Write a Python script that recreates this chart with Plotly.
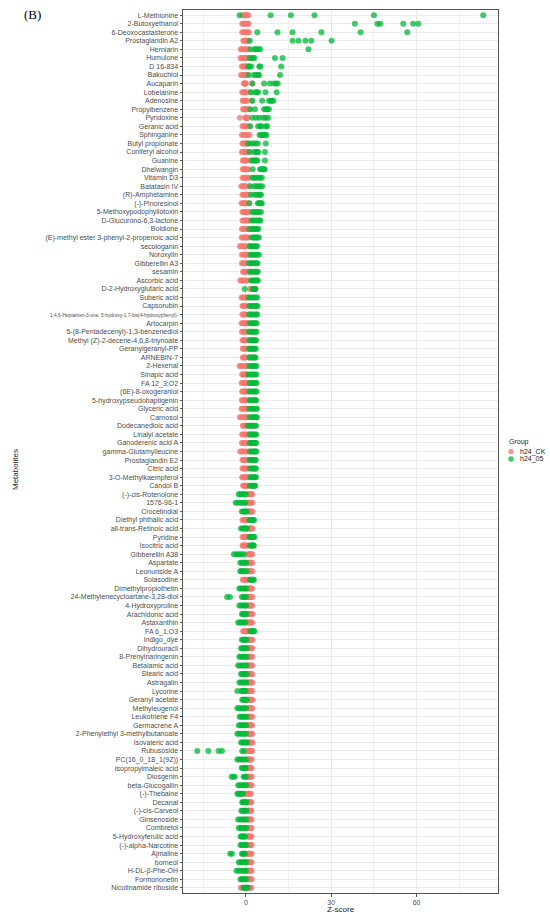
import plotly.graph_objects as go

metabolites = [
    "L-Methionine", "2-Butoxyethanol", "6-Deoxocastasterone", "Prostaglandin A2", "Herniarin",
    "Humulone", "D 16-834", "Bakuchiol", "Aucaparin", "Lobelanine",
    "Adenosine", "Propylbenzene", "Pyridoxine", "Geranic acid", "Sphinganine",
    "Butyl propionate", "Coniferyl alcohol", "Guanine", "Dhelwangin", "Vitamin D3",
    "Batatasin IV", "(R)-Amphetamine", "(-)-Pinoresinol", "5-Methoxypodophyllotoxin", "D-Glucurono-6,3-lactone",
    "Boldione", "(E)-methyl ester 3-phenyl-2-propenoic acid", "secologanin", "Noroxylin", "Gibberellin A3",
    "sesamin", "Ascorbic acid", "D-2-Hydroxyglutaric acid", "Suberic acid", "Capsorubin",
    "1,4,6-Heptatrien-3-one, 5-hydroxy-1,7-bis(4-hydroxyphenyl)-", "Artocarpin", "5-(8-Pentadecenyl)-1,3-benzenediol",
    "Methyl (Z)-2-decene-4,6,8-triynoate", "Geranylgeranyl-PP",
    "ARNEBIN-7", "2-Hexenal", "Sinapic acid", "FA 12_3;O2", "(6E)-8-oxogeraniol",
    "5-hydroxypseudobaptigenin", "Glyceric acid", "Carnosol", "Dodecanedioic acid", "Linalyl acetate",
    "Ganoderenic acid A", "gamma-Glutamylleucine", "Prostaglandin E2", "Citric acid", "3-O-Methylkaempferol",
    "Candol B", "(-)-cis-Rotenolone", "1576-96-1", "Crocetindial", "Diethyl phthalic acid",
    "all-trans-Retinoic acid", "Pyridine", "Isocitric acid", "Gibberellin A38", "Aspartate",
    "Leonuriside A", "Solasodine", "Dimethylpropiothetin", "24-Methylenecycloartane-3,28-diol", "4-Hydroxyproline",
    "Arachidonic acid", "Astaxanthin", "FA 6_1;O3", "Indigo_dye", "Dihydrouracil",
    "8-Prenylnaringenin", "Betalamic acid", "Stearic acid", "Astragalin", "Lycorine",
    "Geranyl acetate", "Methyleugenol", "Leukotriene F4", "Germacrene A", "2-Phenylethyl 3-methylbutanoate",
    "Isovaleric acid", "Rubusoside", "PC(16_0_18_1(9Z))", "Isopropylmaleic acid", "Diosgenin",
    "beta-Glucogallin", "(-)-Thebaine", "Decanal", "(-)-cis-Carveol", "Ginsenoside",
    "Combretol", "5-Hydroxyferulic acid", "(-)-alpha-Narcotine", "Ajmaline", "borneol",
    "H-DL-β-Phe-OH", "Formononetin", "Nicotinamide riboside",
]

# h24_CK z-scores (6 replicates per metabolite)
ck_values = [
    [-1.2, -0.8, -0.4, 0.0, 0.4, 0.9], [-1.3, -0.9, -0.4, 0.1, 0.5, 1.0], [-1.3, -0.9, -0.4, 0.1, 0.6, 1.1],
    [-0.9, -0.6, -0.3, 0.0, 0.4, 0.7], [-1.8, -1.4, -0.9, -0.4, 0.1, 0.7], [-1.9, -1.4, -1.0, -0.5, 0.0, 0.5],
    [-1.4, -1.0, -0.6, -0.2, 0.2, 0.7], [-1.7, -1.3, -0.8, -0.4, 0.1, 0.5], [-0.7, -0.5, -0.3, -0.1, 0.0, 2.2],
    [-1.3, -0.9, -0.5, -0.2, 0.2, 1.5], [-1.1, -0.8, -0.4, 0.0, 0.3, 2.0], [-1.0, -0.7, -0.3, 0.0, 0.3, 1.3],
    [-2.1, -0.2, 0.0, 0.2, 0.4, 0.6], [-1.2, -0.9, -0.5, -0.1, 0.2, 1.3], [-1.4, -0.9, -0.4, 0.2, 0.7, 1.3],
    [-1.2, -0.9, -0.5, 0.0, 0.4, 0.8], [-1.4, -1.0, -0.6, -0.2, 0.2, 1.2], [-1.1, -0.8, -0.4, 0.0, 0.3, 1.8],
    [-1.1, -0.8, -0.4, 0.0, 0.4, 0.9], [-1.2, -0.8, -0.3, 0.2, 0.6, 1.1], [-1.6, -1.2, -0.8, -0.3, 0.1, 1.2],
    [-1.2, -0.8, -0.4, 0.1, 0.5, 1.3], [-1.5, -1.1, -0.8, -0.4, 0.0, 1.0], [-1.2, -0.8, -0.4, 0.1, 0.5, 1.0],
    [-1.2, -0.8, -0.3, 0.2, 0.6, 1.1], [-1.4, -1.0, -0.5, 0.0, 0.9, 1.7], [-1.5, -1.1, -0.6, -0.1, 0.3, 0.8],
    [-2.1, -1.6, -1.1, -0.6, -0.2, 0.9], [-1.4, -1.0, -0.5, 0.0, 0.4, 0.9], [-1.4, -1.0, -0.5, -0.1, 0.9, 1.7],
    [-1.0, -0.7, -0.3, 0.1, 1.1, 1.8], [-2.0, -1.5, -1.0, -0.4, 0.1, 0.7], [1.5, 1.8, 2.2, 2.6, 3.0, 3.4],
    [-1.5, -1.1, -0.7, -0.2, 0.2, 0.7], [-1.2, -0.9, -0.5, -0.1, 1.0, 1.8], [-1.2, -0.9, -0.5, -0.1, 1.0, 1.8],
    [-1.5, -1.1, -0.7, -0.2, 0.2, 0.6], [-1.4, -1.0, -0.5, 0.0, 0.9, 1.6], [-1.2, -0.9, -0.5, -0.1, 1.0, 1.8],
    [-1.1, -0.8, -0.4, 0.1, 1.0, 1.7], [-1.1, -0.8, -0.4, 0.0, 1.1, 1.8], [-2.2, -1.7, -1.2, -0.6, 0.0, 0.5],
    [-1.3, -1.0, -0.6, -0.2, 0.1, 0.4], [-1.5, -1.1, -0.6, -0.1, 0.5, 1.2], [-1.3, -1.0, -0.6, -0.2, 0.3, 1.1],
    [-1.4, -1.1, -0.6, -0.2, 0.3, 1.2], [-1.5, -1.2, -0.7, -0.2, 0.2, 0.7], [-2.1, -1.6, -1.1, -0.5, 0.0, 0.6],
    [-1.1, -0.8, -0.5, 0.4, 1.2, 1.9], [-1.3, -1.0, -0.5, 0.0, 0.8, 1.5], [-1.4, -1.0, -0.5, 0.0, 0.9, 1.6],
    [-2.0, -1.5, -1.0, -0.4, 0.4, 1.3], [-1.2, -0.9, -0.5, -0.1, 0.8, 1.5], [-1.2, -0.9, -0.5, -0.1, 0.3, 0.8],
    [-1.3, -1.0, -0.5, 0.0, 0.4, 0.9], [-1.0, -0.7, -0.3, 0.1, 0.5, 0.8],
    [0.7, 1.0, 1.3, 1.6, 1.9, 2.2], [0.6, 1.0, 1.3, 1.6, 1.9, 2.2], [0.8, 1.1, 1.4, 1.7, 2.0, 2.3],
    [-1.2, -0.9, -0.5, -0.1, 0.3, 0.7], [0.8, 1.1, 1.4, 1.7, 2.0, 2.3], [-1.2, -0.9, -0.5, -0.1, 0.3, 0.8],
    [-1.2, -0.9, -0.5, -0.1, 0.3, 0.8], [0.7, 1.0, 1.3, 1.6, 1.9, 2.2], [0.7, 1.0, 1.3, 1.6, 1.9, 2.2],
    [0.6, 1.0, 1.3, 1.6, 1.9, 2.2], [-1.1, -0.8, -0.4, 0.0, 0.4, 0.8], [0.7, 1.0, 1.3, 1.6, 1.9, 2.2],
    [0.7, 1.0, 1.3, 1.6, 1.9, 2.2], [0.7, 1.0, 1.3, 1.6, 1.9, 2.2], [0.8, 1.1, 1.4, 1.7, 2.0, 2.3],
    [0.4, 0.8, 1.2, 1.6, 1.9, 2.2], [-1.0, -0.7, -0.3, 0.1, 0.5, 0.9], [0.8, 1.1, 1.4, 1.7, 2.0, 2.3],
    [0.7, 1.0, 1.3, 1.6, 1.9, 2.2], [0.7, 1.0, 1.3, 1.6, 1.9, 2.2], [0.7, 1.0, 1.3, 1.6, 1.9, 2.2],
    [0.7, 1.0, 1.3, 1.6, 1.9, 2.2], [0.7, 1.0, 1.3, 1.6, 1.9, 2.2], [0.4, 0.8, 1.2, 1.6, 1.9, 2.2],
    [0.8, 1.1, 1.4, 1.7, 2.0, 2.3], [0.7, 1.0, 1.3, 1.6, 1.9, 2.2], [0.7, 1.0, 1.3, 1.6, 1.9, 2.2],
    [0.7, 1.0, 1.3, 1.6, 1.9, 2.2], [0.7, 1.0, 1.3, 1.6, 1.9, 2.2], [0.8, 1.1, 1.4, 1.7, 2.0, 2.3],
    [0.4, 0.8, 1.2, 1.6, 1.9, 2.2], [0.6, 0.9, 1.2, 1.5, 1.8, 2.0], [0.5, 0.8, 1.1, 1.4, 1.7, 2.0],
    [0.5, 0.8, 1.1, 1.4, 1.7, 2.0], [0.5, 0.8, 1.1, 1.4, 1.7, 2.0], [-0.3, 0.2, 0.6, 1.0, 1.4, 1.8],
    [0.8, 1.0, 1.3, 1.5, 1.7, 1.9], [0.7, 1.0, 1.2, 1.5, 1.7, 1.9], [0.5, 0.8, 1.1, 1.4, 1.7, 2.0],
    [0.5, 0.8, 1.1, 1.4, 1.7, 2.0], [0.5, 0.8, 1.1, 1.4, 1.7, 2.0], [0.5, 0.8, 1.1, 1.4, 1.7, 2.0],
    [0.5, 0.8, 1.1, 1.4, 1.7, 2.0], [0.5, 0.8, 1.1, 1.4, 1.7, 2.0], [0.5, 0.8, 1.1, 1.4, 1.7, 2.0],
    [0.6, 0.9, 1.2, 1.5, 1.8, 2.0], [-1.8, -1.3, 0.9, 1.3, 1.6, 1.9],
]

# h24_05 z-scores (6 replicates per metabolite)
trt_values = [
    [-2.2, 8.7, 15.8, 24.1, 45.0, 83.4], [38.3, 46.2, 47.2, 55.3, 58.8, 60.6], [4.0, 11.1, 16.4, 26.5, 40.3, 56.7],
    [1.4, 16.4, 18.5, 20.9, 23.0, 30.1], [1.6, 3.0, 3.6, 4.3, 5.0, 22.0], [1.3, 2.0, 2.6, 3.0, 10.2, 12.9],
    [0.8, 1.3, 1.9, 4.7, 5.1, 12.4], [1.0, 2.7, 3.5, 4.4, 4.6, 12.0], [2.3, 6.4, 8.4, 9.8, 10.6, 11.2],
    [1.7, 3.2, 3.8, 4.3, 6.9, 10.8], [2.3, 5.7, 8.1, 8.7, 9.2, 9.6], [1.5, 3.2, 6.4, 7.0, 7.6, 8.1],
    [2.3, 3.5, 4.7, 6.1, 6.9, 7.8], [1.5, 4.3, 5.0, 5.5, 7.0, 7.5], [4.8, 5.3, 5.8, 6.3, 6.8, 7.2],
    [0.8, 1.8, 2.6, 3.4, 4.2, 7.0], [1.3, 2.9, 3.5, 4.1, 4.3, 6.7], [2.0, 2.6, 3.2, 3.6, 4.0, 6.7],
    [2.4, 5.0, 5.5, 5.9, 6.3, 6.6], [2.3, 2.9, 3.6, 4.3, 5.0, 5.6], [1.5, 3.0, 3.7, 4.4, 5.1, 5.7],
    [1.8, 3.1, 3.7, 4.3, 4.9, 5.3], [1.2, 4.2, 4.6, 5.0, 5.3, 5.6], [2.2, 2.8, 3.4, 4.0, 4.6, 5.3],
    [2.0, 2.6, 3.3, 4.0, 4.6, 5.1], [1.2, 2.2, 2.8, 3.4, 3.9, 4.4], [2.0, 2.6, 3.1, 3.6, 4.1, 4.6],
    [1.3, 1.8, 2.3, 2.9, 3.5, 4.0], [1.6, 2.2, 2.8, 3.4, 4.0, 4.6], [1.1, 1.9, 2.6, 3.2, 3.7, 4.1],
    [1.3, 2.0, 2.7, 3.3, 3.8, 4.2], [1.8, 2.4, 2.9, 3.4, 3.9, 4.2], [-0.4, 2.5, 2.7, 2.9, 3.1, 3.3],
    [1.0, 1.6, 2.2, 2.8, 3.4, 4.0], [1.2, 2.0, 2.6, 3.2, 3.7, 4.1], [1.1, 1.9, 2.5, 3.1, 3.6, 4.0],
    [1.3, 1.9, 2.4, 2.9, 3.4, 3.8], [1.1, 1.8, 2.4, 2.9, 3.3, 3.7], [1.2, 1.9, 2.4, 2.9, 3.3, 3.6],
    [1.0, 1.6, 2.2, 2.7, 3.1, 3.5], [1.2, 1.8, 2.3, 2.7, 3.1, 3.4], [1.2, 1.8, 2.3, 2.8, 3.3, 3.7],
    [0.8, 1.4, 2.0, 2.6, 3.2, 3.7], [1.3, 1.9, 2.4, 2.9, 3.4, 3.7], [1.2, 1.8, 2.4, 2.9, 3.4, 3.8],
    [1.3, 1.9, 2.4, 2.9, 3.3, 3.6], [1.2, 1.8, 2.4, 3.0, 3.5, 3.9], [1.3, 1.9, 2.5, 3.0, 3.5, 3.9],
    [0.6, 1.3, 2.0, 2.6, 3.1, 3.6], [1.3, 1.9, 2.4, 2.9, 3.3, 3.6], [1.3, 1.9, 2.4, 2.9, 3.3, 3.6],
    [1.4, 2.0, 2.5, 3.0, 3.4, 3.7], [1.2, 1.8, 2.3, 2.8, 3.2, 3.5], [1.4, 2.0, 2.5, 2.9, 3.3, 3.5],
    [1.5, 2.0, 2.5, 2.9, 3.3, 3.5], [1.4, 1.9, 2.3, 2.7, 3.0, 3.3],
    [-2.5, -2.0, -1.5, -1.0, -0.5, 0.0], [-3.6, -3.0, -2.2, -1.5, -0.8, -0.2], [-1.4, -1.0, -0.6, -0.3, 0.0, 0.3],
    [1.2, 1.6, 2.0, 2.3, 2.6, 2.9], [-1.7, -1.2, -0.8, -0.4, 0.0, 0.3], [1.2, 1.6, 2.0, 2.4, 2.7, 3.0],
    [1.4, 1.8, 2.1, 2.4, 2.6, 2.8], [-4.2, -3.5, -2.8, -2.1, -1.4, -0.7], [-2.0, -1.5, -1.1, -0.7, -0.3, 0.1],
    [-2.0, -1.6, -1.2, -0.8, -0.3, 0.3], [1.4, 1.7, 2.0, 2.3, 2.6, 2.8], [-2.3, -1.8, -1.3, -0.8, -0.3, 0.1],
    [-6.6, -5.6, -1.4, -0.9, -0.4, 0.0], [-2.3, -1.8, -1.3, -0.8, -0.3, 0.1], [-1.4, -1.0, -0.7, -0.4, -0.1, 0.2],
    [-2.7, -2.2, -1.7, -1.2, -0.7, -0.2], [1.5, 1.8, 2.1, 2.4, 2.7, 3.0], [-1.4, -1.0, -0.7, -0.4, -0.1, 0.2],
    [-1.7, -1.3, -0.9, -0.5, -0.1, 0.3], [-2.3, -1.8, -1.3, -0.8, -0.3, 0.2], [-2.7, -2.1, -1.5, -0.9, -0.3, 0.2],
    [-1.7, -1.3, -0.9, -0.5, -0.1, 0.3], [-2.3, -1.8, -1.3, -0.8, -0.3, 0.2], [-3.0, -1.6, -1.2, -0.8, -0.4, -0.1],
    [-1.3, -0.9, -0.6, -0.3, 0.0, 0.3], [-3.0, -2.4, -1.8, -1.2, -0.6, 0.0], [-2.2, -1.7, -1.2, -0.8, -0.3, 0.2],
    [-2.5, -1.9, -1.4, -0.9, -0.4, 0.1], [-3.0, -2.4, -1.8, -1.2, -0.6, 0.0], [-1.7, -1.3, -0.9, -0.5, -0.1, 0.3],
    [-17.1, -13.2, -9.6, -8.4, -1.3, -0.7], [-3.0, -2.4, -1.8, -1.2, -0.6, 0.0], [-1.5, -1.1, -0.8, -0.5, -0.3, -0.1],
    [-5.0, -4.4, -3.9, -0.8, -0.4, 0.0], [-2.7, -2.1, -1.5, -0.9, -0.4, 0.1], [-3.0, -2.6, -2.2, -1.8, -1.4, -1.0],
    [-1.3, -1.0, -0.7, -0.4, -0.1, 0.2], [-1.6, -1.2, -0.8, -0.5, -0.2, 0.2], [-2.7, -2.1, -1.5, -0.9, -0.4, 0.1],
    [-2.5, -1.9, -1.4, -0.9, -0.4, 0.1], [-1.9, -1.5, -1.2, -0.9, -0.6, -0.3], [-1.9, -1.5, -1.1, -0.7, -0.3, 0.1],
    [-5.5, -4.9, -1.4, -1.0, -0.7, -0.4], [-2.5, -1.9, -1.4, -0.9, -0.4, 0.1], [-3.3, -2.6, -1.9, -1.3, -0.6, 0.0],
    [-1.9, -1.5, -1.1, -0.7, -0.3, 0.1], [-0.8, -0.5, -0.2, 0.1, 0.4, 0.6],
]

group_names = ["h24_CK", "h24_05"]
group_colors = ["#F8766D", "#00BA38"]
x_tick_values = [0, 30, 60]
x_minor_values = [-15, 15, 45, 75]

LONG = "1,4,6-Heptatrien-3-one, 5-hydroxy-1,7-bis(4-hydroxyphenyl)-"
tick_text = [
    ('<span style="font-size:4.8px">' + m + "</span>") if m == LONG else m
    for m in metabolites
]

fig = go.Figure()
for name, color, values in zip(group_names, group_colors, [ck_values, trt_values]):
    xs, ys = [], []
    for m, vals in zip(metabolites, values):
        for v in vals:
            xs.append(v)
            ys.append(m)
    fig.add_trace(go.Scatter(
        x=xs, y=ys, mode="markers", name=name, showlegend=False,
        marker=dict(color=color, size=6, opacity=0.75, line=dict(width=0)),
    ))

PW, PH = 550, 914
L, R, T, B = 183, 52, 10, 21
plot_w = PW - L - R
plot_h = PH - T - B


def pxx(page_x):
    return (page_x - L) / plot_w


def pxy(page_y):
    return (PH - B - page_y) / plot_h


fig.update_layout(
    width=PW, height=PH,
    margin=dict(l=L, r=R, t=T, b=B, autoexpand=False),
    paper_bgcolor="white", plot_bgcolor="white",
    font=dict(family="Liberation Sans, Arial, sans-serif", color="#4D4D4D", size=7),
    showlegend=False,
    xaxis=dict(
        range=[-22.1, 88.6],
        tickmode="array", tickvals=x_tick_values,
        showgrid=True, gridcolor="#EBEBEB", gridwidth=1,
        minor=dict(tickvals=x_minor_values, showgrid=True, gridcolor="#F2F2F2", gridwidth=0.6, ticks=""),
        zeroline=False,
        showline=True, mirror=True, linecolor="#555555", linewidth=1,
        ticks="outside", ticklen=2.5, tickcolor="#555555", tickwidth=0.8,
        tickfont=dict(size=7, color="#4D4D4D"),
        automargin=False,
    ),
    yaxis=dict(
        type="category",
        categoryorder="array", categoryarray=metabolites,
        range=[len(metabolites) - 0.4, -0.6],
        tickmode="array", tickvals=metabolites, ticktext=tick_text,
        showgrid=True, gridcolor="#EBEBEB", gridwidth=1,
        zeroline=False,
        showline=True, mirror=True, linecolor="#555555", linewidth=1,
        ticks="outside", ticklen=2.5, tickcolor="#555555", tickwidth=0.8,
        tickfont=dict(size=7, color="#4D4D4D"),
        automargin=False,
    ),
)

fig.add_annotation(
    text="(B)", xref="paper", yref="paper",
    x=pxx(22), y=pxy(15),
    xanchor="left", yanchor="middle", showarrow=False,
    font=dict(family="Liberation Serif, Times New Roman, serif", size=13, color="black"),
)
fig.add_annotation(
    text="Metabolites", xref="paper", yref="paper",
    x=pxx(15), y=pxy(470), textangle=-90,
    xanchor="center", yanchor="middle", showarrow=False,
    font=dict(size=8, color="#1a1a1a"),
)
fig.add_annotation(
    text="Z-score", xref="paper", yref="paper",
    x=0.5, y=pxy(909),
    xanchor="center", yanchor="middle", showarrow=False,
    font=dict(size=8, color="#1a1a1a"),
)

# Manual legend (kept in the right margin like the reference)
fig.add_annotation(
    text="Group", xref="paper", yref="paper",
    x=pxx(507), y=pxy(442),
    xanchor="left", yanchor="middle", showarrow=False,
    font=dict(size=7, color="#1a1a1a"),
)
for i, (name, color) in enumerate(zip(group_names, group_colors)):
    cy = 451.5 + i * 7.5
    fig.add_shape(
        type="circle", xref="paper", yref="paper",
        xsizemode="pixel", ysizemode="pixel",
        xanchor=pxx(511), yanchor=pxy(cy),
        x0=-2.8, x1=2.8, y0=-2.8, y1=2.8,
        fillcolor=color, opacity=0.75, line=dict(width=0),
    )
    fig.add_annotation(
        text=name, xref="paper", yref="paper",
        x=pxx(518), y=pxy(cy),
        xanchor="left", yanchor="middle", showarrow=False,
        font=dict(size=7, color="#1a1a1a"),
    )

fig.write_html(
    "out.html",
    config={"displayModeBar": False},
    post_script="document.body.style.margin='0px';document.body.style.overflow='hidden';",
)
